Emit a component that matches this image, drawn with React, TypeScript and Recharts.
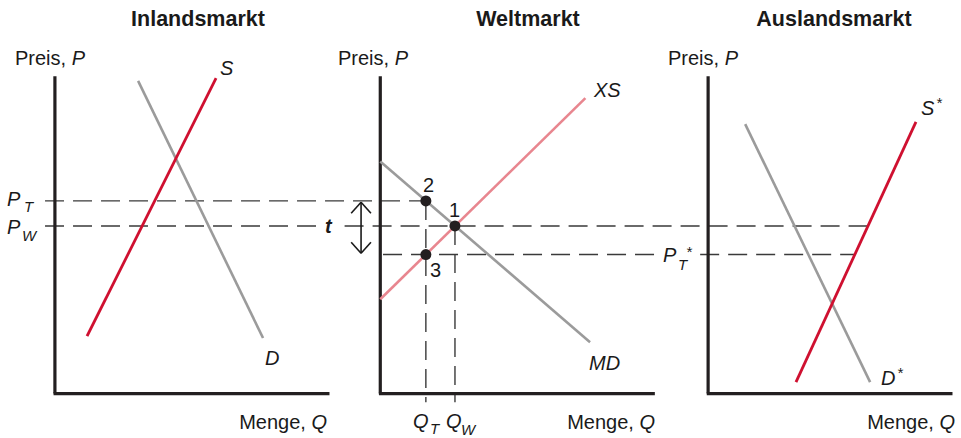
import React from "react";
import { ComposedChart, Line, XAxis, YAxis, ReferenceLine, ReferenceDot } from "recharts";

// curves in local units of each panel (q = Menge, p = Preis)
const inlandSupply = [{ q: 1.17, p: 1.81 }, { q: 5.87, p: 9.94 }];
const inlandDemand = [{ q: 3.03, p: 9.85 }, { q: 7.58, p: 1.75 }];
const exportSupply = [{ q: 0, p: 2.97 }, { q: 7.47, p: 9.31 }];
const importDemand = [{ q: 0, p: 7.31 }, { q: 7.64, p: 1.62 }];
const foreignDemand = [{ q: 1.35, p: 8.49 }, { q: 5.9, p: 0.36 }];
const foreignSupply = [{ q: 3.2, p: 0.36 }, { q: 7.57, p: 8.56 }];

// P_T, P_W, P_T*
const prices = [6.07, 5.28, 4.38];
// Q_T, Q_W on the world market
const worldQuantities = [1.66, 2.72];
const axisLengths = [10, 10, 8.9];
const axisHeight = 10;

const titles = ["Inlandsmarkt", "Weltmarkt", "Auslandsmarkt"];

// layout: where each panel's origin sits on the shared x scale
const PANEL_X = [0, 11.85, 23.79];
const W = 961;
const H = 438;

const AXIS = "#231f20";
const RED = "#cf1030";
const GRAY = "#9b9b9b";
const PINK = "#e8868f";
const DASH = "#3a3a3a";
const FONT = "'Liberation Sans', Arial, Helvetica, sans-serif";

const shift = (pts: { q: number; p: number }[], i: number) => pts.map((d) => ({ q: d.q + PANEL_X[i], p: d.p }));
const qAt = (pts: { q: number; p: number }[], p: number) =>
  pts[0].q + ((p - pts[0].p) * (pts[1].q - pts[0].q)) / (pts[1].p - pts[0].p);

const [PT, PW, PTs] = prices;
const [QT, QW] = worldQuantities;

function Labels() {
  const base = { fontFamily: FONT, fontSize: 20, fill: "#1a1a1a" } as const;
  const it = { ...base, fontStyle: "italic" } as const;
  const sub = { ...it, fontSize: 15 } as const;
  const preisX = [15, 338, 668];
  const mengeX = [327, 655, 955];
  const titleX = [198, 528, 834];
  return (
    <svg width={W} height={H} style={{ position: "absolute", left: 0, top: 0, pointerEvents: "none" }}>
      {titles.map((t, i) => (
        <text key={t} x={titleX[i]} y={26} textAnchor="middle" style={{ ...base, fontSize: 21.5, fontWeight: 700 }}>
          {t}
        </text>
      ))}
      {preisX.map((x) => (
        <text key={x} x={x} y={65} style={base}>
          Preis, <tspan fontStyle="italic">P</tspan>
        </text>
      ))}
      {mengeX.map((x) => (
        <text key={x} x={x} y={429} textAnchor="end" style={base}>
          Menge, <tspan fontStyle="italic">Q</tspan>
        </text>
      ))}
      <text x={220} y={75} style={it}>S</text>
      <text x={265} y={365} style={it}>D</text>
      <text x={594} y={97} style={it}>XS</text>
      <text x={589} y={370} style={it}>MD</text>
      <text x={921} y={115} style={it}>S</text>
      <text x={936} y={108} style={sub}>*</text>
      <text x={881} y={385} style={it}>D</text>
      <text x={897} y={378} style={sub}>*</text>

      <text x={7} y={206} style={it}>P</text>
      <text x={24} y={212} style={sub}>T</text>
      <text x={7} y={234} style={it}>P</text>
      <text x={22} y={241} style={sub}>W</text>
      <text x={663} y={262} style={it}>P</text>
      <text x={678} y={270} style={sub}>T</text>
      <text x={686} y={257} style={sub}>*</text>

      <text x={413} y={428} style={it}>Q</text>
      <text x={430} y={434} style={sub}>T</text>
      <text x={446} y={428} style={it}>Q</text>
      <text x={461} y={435} style={sub}>W</text>

      <text x={325} y={233} style={{ ...it, fontWeight: 700 }}>t</text>
      <text x={423} y={192} style={base}>2</text>
      <text x={449} y={217} style={base}>1</text>
      <text x={430} y={277} style={base}>3</text>
    </svg>
  );
}

export default function App() {
  const dashed = { stroke: DASH, strokeWidth: 1.4, strokeDasharray: "19 9" };
  const arrowX = 11.15;
  const arrowTop = 6.03;
  const arrowBot = 4.42;
  const ax = 0.36;
  const ay = 0.35;
  const arrow = { stroke: "#1a1a1a", strokeWidth: 1.6 };
  const curve = { dataKey: "p", dot: false, activeDot: false, isAnimationActive: false } as const;

  return (
    <div style={{ position: "absolute", left: 0, top: 0, width: W, height: H, background: "#fff" }}>
      <ComposedChart width={W} height={H} margin={{ top: 0, right: 0, bottom: 0, left: 0 }}>
        <XAxis type="number" dataKey="q" domain={[-2, 33]} hide allowDataOverflow />
        <YAxis type="number" dataKey="p" domain={[-1.4, 12.4]} hide allowDataOverflow />

        {/* horizontal price lines */}
        <ReferenceLine segment={[{ x: -0.36, y: PT }, { x: PANEL_X[1] + QT, y: PT }]} {...dashed} />
        <ReferenceLine segment={[{ x: -0.36, y: PW }, { x: 9.6, y: PW }]} {...dashed} />
        <ReferenceLine segment={[{ x: 10.55, y: PW }, { x: PANEL_X[2] + qAt(foreignSupply, PW), y: PW }]} {...dashed} />
        <ReferenceLine segment={[{ x: PANEL_X[1] + 0.1, y: PTs }, { x: PANEL_X[2] - 1.93, y: PTs }]} {...dashed} />
        <ReferenceLine segment={[{ x: PANEL_X[2] - 0.29, y: PTs }, { x: PANEL_X[2] + qAt(foreignSupply, PTs), y: PTs }]} {...dashed} />
        {/* vertical quantity lines */}
        <ReferenceLine segment={[{ x: PANEL_X[1] + QT, y: PT }, { x: PANEL_X[1] + QT, y: -0.27 }]} {...dashed} />
        <ReferenceLine segment={[{ x: PANEL_X[1] + QW, y: PW }, { x: PANEL_X[1] + QW, y: -0.27 }]} {...dashed} />

        {/* axes */}
        {PANEL_X.map((x0, i) => (
          <ReferenceLine
            key={`ax${i}`}
            segment={[{ x: x0, y: axisHeight }, { x: x0, y: 0 }]}
            stroke={AXIS}
            strokeWidth={3.2}
          />
        ))}
        {PANEL_X.map((x0, i) => (
          <ReferenceLine
            key={`ay${i}`}
            segment={[{ x: x0 - 0.05, y: 0 }, { x: x0 + axisLengths[i], y: 0 }]}
            stroke={AXIS}
            strokeWidth={3.2}
          />
        ))}

        {/* tariff arrow */}
        <ReferenceLine segment={[{ x: arrowX, y: arrowTop }, { x: arrowX, y: arrowBot }]} {...arrow} />
        <ReferenceLine segment={[{ x: arrowX - ax, y: arrowTop - ay }, { x: arrowX, y: arrowTop }]} {...arrow} />
        <ReferenceLine segment={[{ x: arrowX + ax, y: arrowTop - ay }, { x: arrowX, y: arrowTop }]} {...arrow} />
        <ReferenceLine segment={[{ x: arrowX - ax, y: arrowBot + ay }, { x: arrowX, y: arrowBot }]} {...arrow} />
        <ReferenceLine segment={[{ x: arrowX + ax, y: arrowBot + ay }, { x: arrowX, y: arrowBot }]} {...arrow} />

        {/* curves */}
        <Line data={shift(inlandDemand, 0)} stroke={GRAY} strokeWidth={2.6} {...curve} />
        <Line data={shift(inlandSupply, 0)} stroke={RED} strokeWidth={2.8} {...curve} />
        <Line data={shift(importDemand, 1)} stroke={GRAY} strokeWidth={2.6} {...curve} />
        <Line data={shift(exportSupply, 1)} stroke={PINK} strokeWidth={2.6} {...curve} />
        <Line data={shift(foreignDemand, 2)} stroke={GRAY} strokeWidth={2.6} {...curve} />
        <Line data={shift(foreignSupply, 2)} stroke={RED} strokeWidth={2.8} {...curve} />

        {/* equilibrium points */}
        <ReferenceDot x={PANEL_X[1] + QT} y={PT} r={5.5} fill={AXIS} stroke="none" />
        <ReferenceDot x={PANEL_X[1] + QW} y={PW} r={5.5} fill={AXIS} stroke="none" />
        <ReferenceDot x={PANEL_X[1] + QT} y={PTs} r={5.5} fill={AXIS} stroke="none" />
      </ComposedChart>
      <Labels />
    </div>
  );
}
